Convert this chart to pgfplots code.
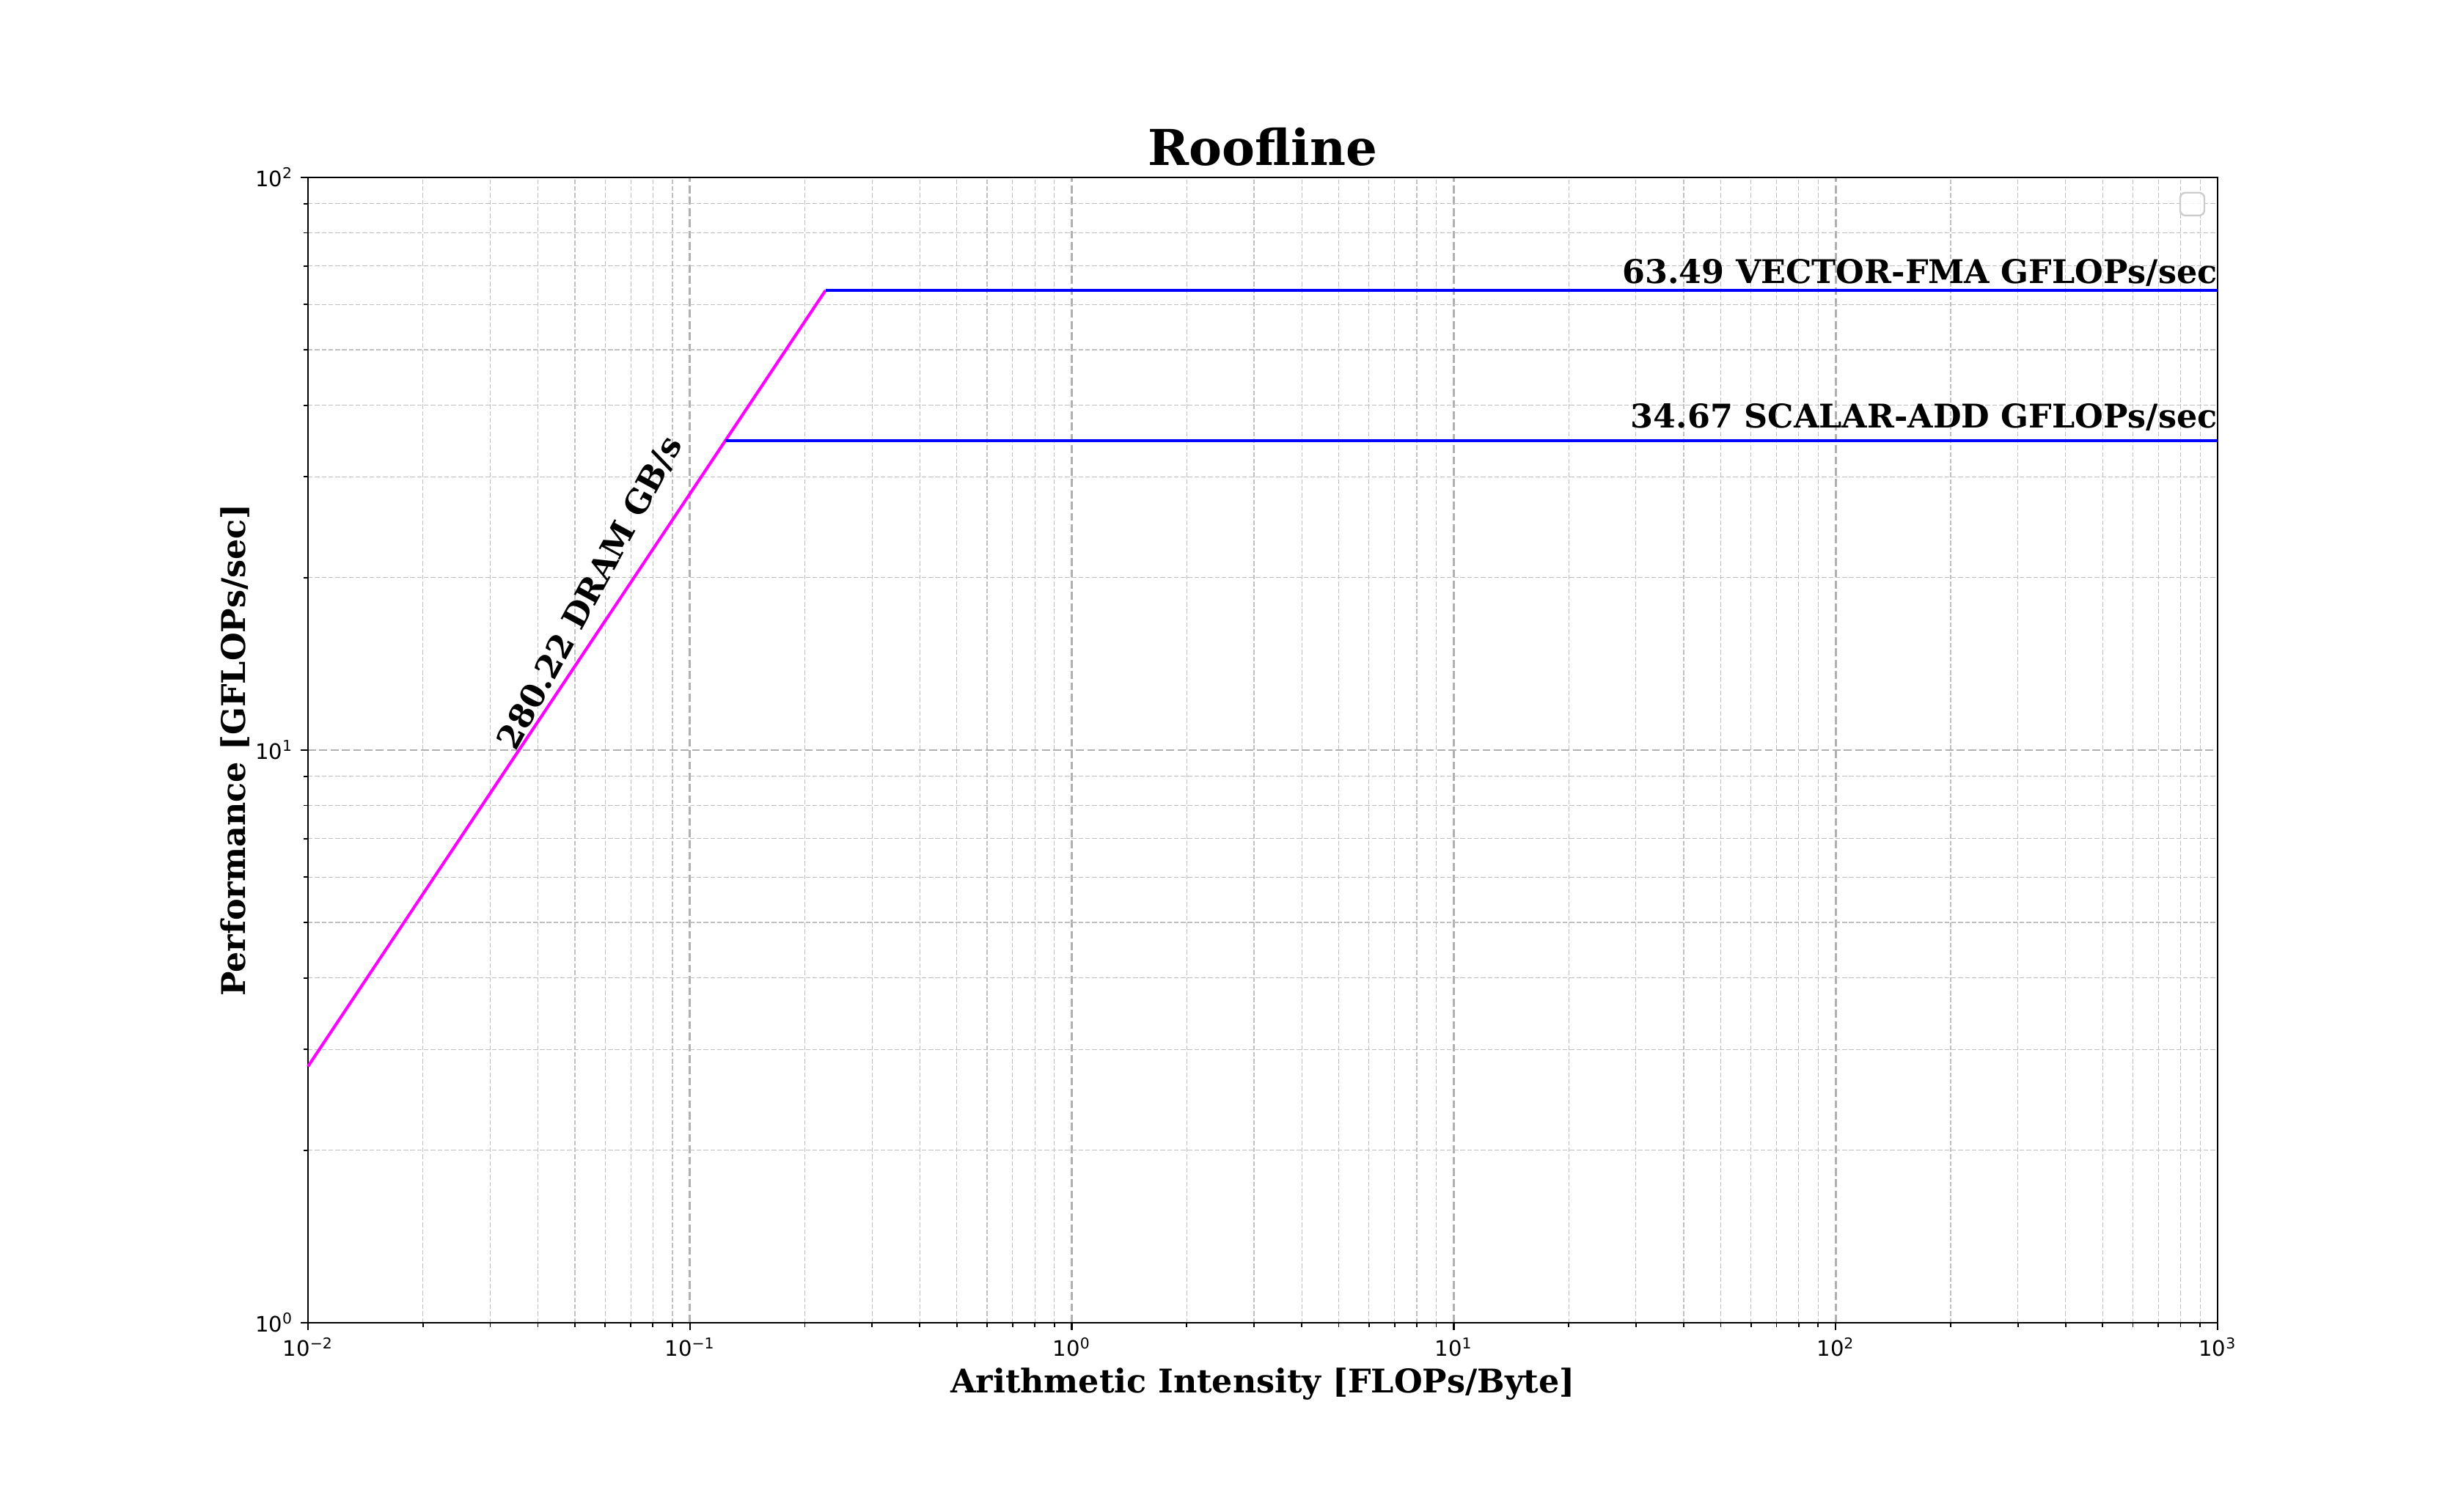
\documentclass[border=0pt]{standalone}
\usepackage{pgfplots}
\pgfplotsset{compat=1.18}
\usepackage{fontspec}
\setmainfont{DejaVu Serif}
\setsansfont{DejaVu Sans}
\definecolor{gridgray}{HTML}{B0B0B0}
\definecolor{legbox}{HTML}{CCCCCC}
\definecolor{roofmag}{HTML}{FF00FF}
\definecolor{roofblue}{HTML}{0000FF}
\begin{document}
\begin{tikzpicture}
\path[use as bounding box] (-2in,-1.0667in) rectangle (14in,8.59in);
\begin{axis}[
  at={(0,0)}, anchor=south west,
  scale only axis, width=12.4in, height=7.438in,
  xmode=log, ymode=log,
  xmin=0.01, xmax=1000, ymin=1, ymax=100,
  xtick={0.01,0.1,1,10,100,1000},
  xticklabels={10\textsuperscript{−2},10\textsuperscript{−1},10\textsuperscript{0},10\textsuperscript{1},10\textsuperscript{2},10\textsuperscript{3}},
  ytick={1,10,100},
  yticklabels={10\textsuperscript{0},10\textsuperscript{1},10\textsuperscript{2}},
  minor xtick={0.02,0.03,0.04,0.05,0.06,0.07,0.08,0.09,0.2,0.3,0.4,0.5,0.6,0.7,0.8,0.9,2,3,4,5,6,7,8,9,20,30,40,50,60,70,80,90,200,300,400,500,600,700,800,900},
  minor ytick={2,3,4,5,6,7,8,9,20,30,40,50,60,70,80,90},
  xtick pos=left, ytick pos=left,
  tick align=outside,
  major tick length=3.5pt, minor tick length=2pt,
  every tick/.style={black, line width=0.8pt},
  minor tick style={black, line width=0.6pt},
  axis line style={line width=0.8pt},
  grid=both,
  major grid style={gridgray, line width=0.9pt, dash pattern=on 3.7pt off 1.6pt},
  minor grid style={gridgray!80, line width=0.4pt, dash pattern=on 2.2pt off 1pt},
  tick label style={font=\sffamily\fontsize{10}{12}\selectfont},
  every axis title shift=0pt,
  title={Roofline},
  title style={font=\bfseries\fontsize{23.2}{28}\selectfont, at={(axis description cs:0.5,1.0106)}, anchor=base},
  xlabel={Arithmetic Intensity [FLOPs/Byte]},
  ylabel={Performance [GFLOPs/sec]},
  xlabel style={font=\bfseries\fontsize{15.3}{18}\selectfont, at={(axis description cs:0.5,-0.0615)}, anchor=base},
  ylabel style={font=\bfseries\fontsize{15.3}{18}\selectfont, at={(axis description cs:-0.033,0.5)}, anchor=base},
  clip=false,
]
\addplot[draw=roofmag, line width=1.4pt] coordinates {(0.01,2.8022) (0.22657,63.49)};
\addplot[draw=roofblue, line width=1.3pt] coordinates {(0.22657,63.49) (1000,63.49)};
\addplot[draw=roofblue, line width=1.3pt] coordinates {(0.12372,34.67) (1000,34.67)};
\node[anchor=base east, inner sep=0pt, yshift=3.2pt, font=\bfseries\fontsize{15.3}{18}\selectfont] at (axis cs:1000,63.49) {63.49 VECTOR-FMA GFLOPs/sec};
\node[anchor=base east, inner sep=0pt, yshift=6.2pt, font=\bfseries\fontsize{15.3}{18}\selectfont] at (axis cs:1000,34.67) {34.67 SCALAR-ADD GFLOPs/sec};
\node[anchor=base west, inner sep=0pt, rotate=61.5, font=\bfseries\fontsize{15.3}{18}\selectfont] at (axis cs:0.035,9.92) {280.22 DRAM GB/s};
\draw[legbox, fill=white, fill opacity=0.8, rounded corners=2.5pt, line width=0.8pt] (rel axis cs:0.9804,0.9667) rectangle (rel axis cs:0.9931,0.9866);
\end{axis}
\end{tikzpicture}
\end{document}
